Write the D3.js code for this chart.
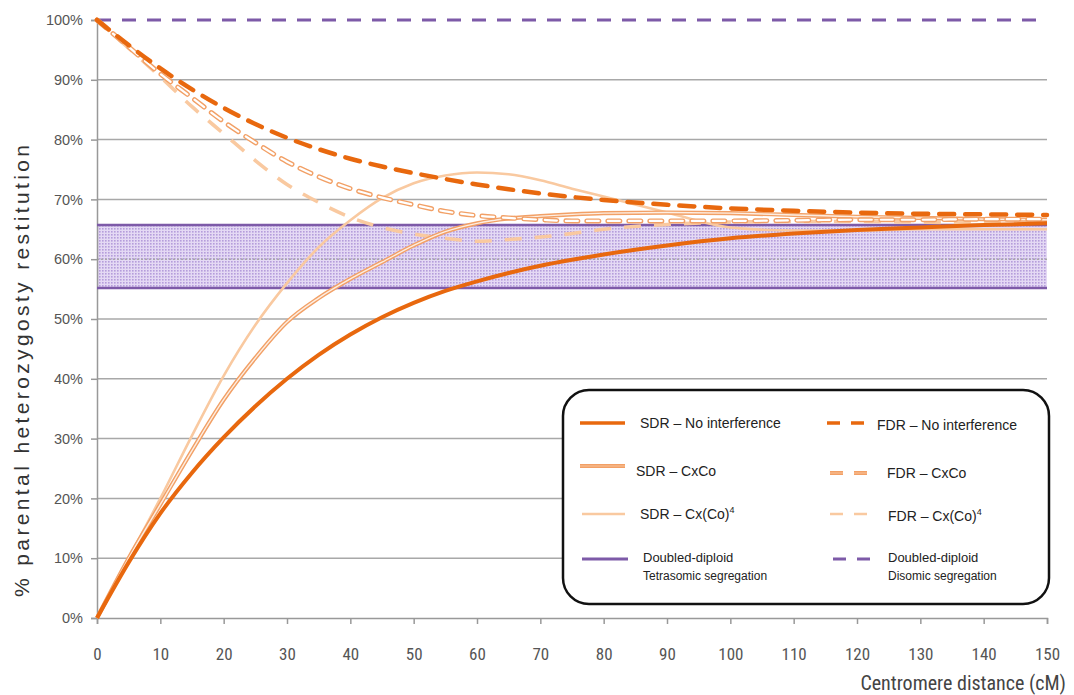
<!DOCTYPE html>
<html>
<head>
<meta charset="utf-8">
<script src="https://cdn.jsdelivr.net/npm/d3@7"></script>
<style>
  body { margin: 0; background: #fff; }
  svg { display: block; }
</style>
</head>
<body>
<div id="chart"></div>
<script>
// centromere distance (cM)
var distances = [0, 5, 10, 15, 20, 25, 30, 35, 40, 45, 50, 55, 60, 65, 70, 75, 80, 90, 100, 110, 120, 130, 140, 150];
// % parental heterozygosity restitution
var sdrNoInterf = [0, 9.3, 17.5, 24.3, 30.2, 35.4, 40, 44, 47.4, 50.3, 52.7, 54.7, 56.3, 57.7, 58.9, 59.9, 60.8, 62.3, 63.5, 64.3, 64.9, 65.3, 65.7, 66.0];
var fdrNoInterf = [100, 95.8, 91.9, 88.4, 85.3, 82.6, 80.3, 78.4, 76.8, 75.5, 74.4, 73.4, 72.5, 71.7, 71.0, 70.4, 69.9, 69.1, 68.5, 68.1, 67.8, 67.6, 67.5, 67.4];
var sdrCxCo = [0, 10, 19, 28, 36.5, 43.5, 49.5, 53.5, 56.7, 59.5, 62.3, 64.6, 66, 66.8, 67.2, 67.5, 67.7, 67.8, 67.7, 67.4, 67.1, 66.9, 66.7, 66.6];
var fdrCxCo = [100, 95.5, 91, 87, 83, 79.5, 76.3, 73.8, 71.8, 70.3, 69.1, 68, 67.3, 66.9, 66.6, 66.4, 66.4, 66.4, 66.4, 66.5, 66.6, 66.6, 66.7, 66.7];
var sdrCxCo4 = [0, 10, 20, 30.5, 40.5, 49, 56, 62, 66.5, 70.2, 72.7, 74, 74.5, 74.2, 73.2, 71.8, 70.5, 67.8, 65.3, 64.8, 64.8, 65, 65, 65];
var fdrCxCo4 = [100, 95.3, 90.5, 85.5, 81, 76.5, 72.5, 69.5, 67, 65.3, 64.2, 63.5, 63, 63.3, 63.7, 64.3, 65, 65.8, 66.2, 66.3, 66.3, 66.2, 66.1, 66.1];
// doubled-diploid references
var tetrasomicRange = [55.2, 65.7];
var disomicLevel = 100;

var xTicks = d3.range(0, 151, 10);
var yTicks = d3.range(0, 101, 10);

var W = 1074, H = 695;
var plotLeft = 97, plotRight = 1047, plotTop = 20, plotBottom = 618;

var dark = "#e8680e", medium = "#f2a066", light = "#f9c9a0", purple = "#7d5aa8";
var narrow = "'Liberation Sans Narrow', 'Roboto Condensed', 'DejaVu Sans Condensed', sans-serif";
var sans = "'Liberation Sans', Arial, sans-serif";

var svg = d3.select("#chart").append("svg")
    .attr("width", W)
    .attr("height", H);

var x = d3.scaleLinear().domain([0, 150]).range([plotLeft, plotRight]);
var y = d3.scaleLinear().domain([0, 100]).range([plotBottom, plotTop]);

var defs = svg.append("defs");
var pat = defs.append("pattern")
    .attr("id", "dots")
    .attr("width", 3).attr("height", 3)
    .attr("patternUnits", "userSpaceOnUse");
pat.append("rect").attr("width", 3).attr("height", 3).attr("fill", "#e4d9f4");
pat.append("rect").attr("width", 1.6).attr("height", 1.6).attr("fill", "#b59ddb");

// tetrasomic band
svg.append("rect")
    .attr("x", x(0))
    .attr("y", y(tetrasomicRange[1]))
    .attr("width", x(150) - x(0))
    .attr("height", y(tetrasomicRange[0]) - y(tetrasomicRange[1]))
    .attr("fill", "url(#dots)");

// grid
svg.append("g").selectAll("line")
    .data(yTicks.filter(function(d) { return d > 0 && d < 100; }))
    .enter().append("line")
    .attr("x1", x(0)).attr("x2", x(150))
    .attr("y1", function(d) { return y(d); })
    .attr("y2", function(d) { return y(d); })
    .attr("stroke", "#a8a8a8")
    .attr("stroke-width", 1.5)
    .attr("stroke-dasharray", function(d) {
        return (d > tetrasomicRange[0] && d < tetrasomicRange[1]) ? "2,2" : null;
    });

// y axis
var yAxis = d3.axisLeft(y).tickValues(yTicks)
    .tickFormat(function(d) { return d + "%"; })
    .tickSize(6).tickPadding(8);
var gy = svg.append("g")
    .attr("transform", "translate(" + plotLeft + ",0)")
    .call(yAxis);
gy.select(".domain").attr("stroke", "#999").attr("stroke-width", 1.5);
gy.selectAll(".tick line").attr("stroke", "#999").attr("stroke-width", 1.5);
gy.selectAll("text")
    .attr("fill", "#555")
    .style("font-family", sans)
    .style("font-size", "14.5px");

// x axis
var xAxis = d3.axisBottom(x).tickValues(xTicks).tickSize(6).tickPadding(24);
var gx = svg.append("g")
    .attr("transform", "translate(0," + plotBottom + ")")
    .call(xAxis);
gx.select(".domain").attr("stroke", "#999").attr("stroke-width", 1.5);
gx.selectAll(".tick line").attr("stroke", "#999").attr("stroke-width", 1.5);
gx.selectAll("text")
    .attr("fill", "#555")
    .style("font-family", narrow)
    .style("font-stretch", "condensed")
    .style("font-size", "17px");

// axis titles
svg.append("text")
    .attr("transform", "translate(29," + ((plotTop + plotBottom) / 2 + 52) + ") rotate(-90)")
    .attr("text-anchor", "middle")
    .attr("fill", "#333")
    .style("font-family", sans)
    .style("font-size", "21px")
    .attr("textLength", 452)
    .attr("lengthAdjust", "spacing")
    .text("% parental heterozygosty restitution");

svg.append("text")
    .attr("x", 1066).attr("y", 690)
    .attr("text-anchor", "end")
    .attr("fill", "#444")
    .style("font-family", narrow)
    .style("font-stretch", "condensed")
    .style("font-size", "20px")
    .text("Centromere distance (cM)");

// band edges and disomic line
tetrasomicRange.forEach(function(v) {
    svg.append("line")
        .attr("x1", x(0)).attr("x2", x(150))
        .attr("y1", y(v)).attr("y2", y(v))
        .attr("stroke", purple).attr("stroke-width", 2.5);
});
svg.append("line")
    .attr("x1", x(0)).attr("x2", x(150))
    .attr("y1", y(disomicLevel)).attr("y2", y(disomicLevel))
    .attr("stroke", purple).attr("stroke-width", 3)
    .attr("stroke-dasharray", "14,11");

var line = d3.line()
    .x(function(d) { return x(d[0]); })
    .y(function(d) { return y(d[1]); })
    .curve(d3.curveMonotoneX);

function pts(vals) {
    return distances.map(function(d, i) { return [d, vals[i]]; });
}

var series = [
    { v: sdrCxCo4, strokes: [{ c: light, w: 2.6 }] },
    { v: fdrCxCo4, strokes: [{ c: light, w: 3.6, dash: "17,13" }] },
    { v: sdrCxCo, strokes: [{ c: medium, w: 4.2 }, { c: "#fdeee2", w: 1.4 }] },
    { v: fdrCxCo, strokes: [{ c: medium, w: 5, dash: "12,9", cap: "round" }, { c: "#fff", w: 2.2, dash: "12,9", cap: "round" }] },
    { v: sdrNoInterf, strokes: [{ c: dark, w: 4 }] },
    { v: fdrNoInterf, strokes: [{ c: dark, w: 4.5, dash: "15,11", cap: "round" }] }
];

series.forEach(function(s) {
    s.strokes.forEach(function(st) {
        svg.append("path")
            .attr("d", line(pts(s.v)))
            .attr("fill", "none")
            .attr("stroke", st.c)
            .attr("stroke-width", st.w)
            .attr("stroke-dasharray", st.dash || null)
            .attr("stroke-linecap", st.cap || "butt");
    });
});

// legend
var lg = svg.append("g");
lg.append("rect")
    .attr("x", 563).attr("y", 390)
    .attr("width", 486).attr("height", 214)
    .attr("rx", 26).attr("ry", 26)
    .attr("fill", "#fff")
    .attr("stroke", "#111").attr("stroke-width", 2.5);

var legendItems = [
    { x1: 580, x2: 625, y: 423, tx: 640, ty: 428, label: "SDR – No interference", strokes: [{ c: dark, w: 3.5 }] },
    { x1: 827, x2: 870, y: 423, tx: 877, ty: 430, label: "FDR – No interference", strokes: [{ c: dark, w: 3.5, dash: "13,11" }] },
    { x1: 580, x2: 625, y: 466, tx: 636, ty: 476, label: "SDR – CxCo", strokes: [{ c: medium, w: 4 }, { c: "#f9c49c", w: 1 }] },
    { x1: 830, x2: 870, y: 473, tx: 887, ty: 478, label: "FDR – CxCo", strokes: [{ c: medium, w: 4, dash: "13,11" }, { c: "#f9c49c", w: 1, dash: "13,11" }] },
    { x1: 582, x2: 625, y: 514, tx: 640, ty: 519, label: "SDR – Cx(Co)", sup: "4", strokes: [{ c: light, w: 2.5 }] },
    { x1: 830, x2: 870, y: 514, tx: 888, ty: 521, label: "FDR – Cx(Co)", sup: "4", strokes: [{ c: light, w: 2.5, dash: "13,11" }] },
    { x1: 582, x2: 628, y: 559, tx: 643, ty: 562, label: "Doubled-diploid", sub: "Tetrasomic segregation", strokes: [{ c: purple, w: 2.8 }] },
    { x1: 833, x2: 870, y: 559, tx: 888, ty: 562, label: "Doubled-diploid", sub: "Disomic segregation", strokes: [{ c: purple, w: 2.8, dash: "13,11" }] }
];

legendItems.forEach(function(it) {
    it.strokes.forEach(function(st) {
        lg.append("line")
            .attr("x1", it.x1).attr("x2", it.x2)
            .attr("y1", it.y).attr("y2", it.y)
            .attr("stroke", st.c)
            .attr("stroke-width", st.w)
            .attr("stroke-dasharray", st.dash || null);
    });
    var t = lg.append("text")
        .attr("x", it.tx).attr("y", it.ty)
        .attr("fill", "#222")
        .style("font-family", sans)
        .style("font-size", it.sub ? "13px" : "14px")
        .text(it.label);
    if (it.sup) {
        t.append("tspan").attr("dy", -6).style("font-size", "9px").text(it.sup);
    }
    if (it.sub) {
        lg.append("text")
            .attr("x", it.tx).attr("y", it.ty + 18)
            .attr("fill", "#222")
            .style("font-family", sans)
            .style("font-size", "12px")
            .text(it.sub);
    }
});
</script>
</body>
</html>
